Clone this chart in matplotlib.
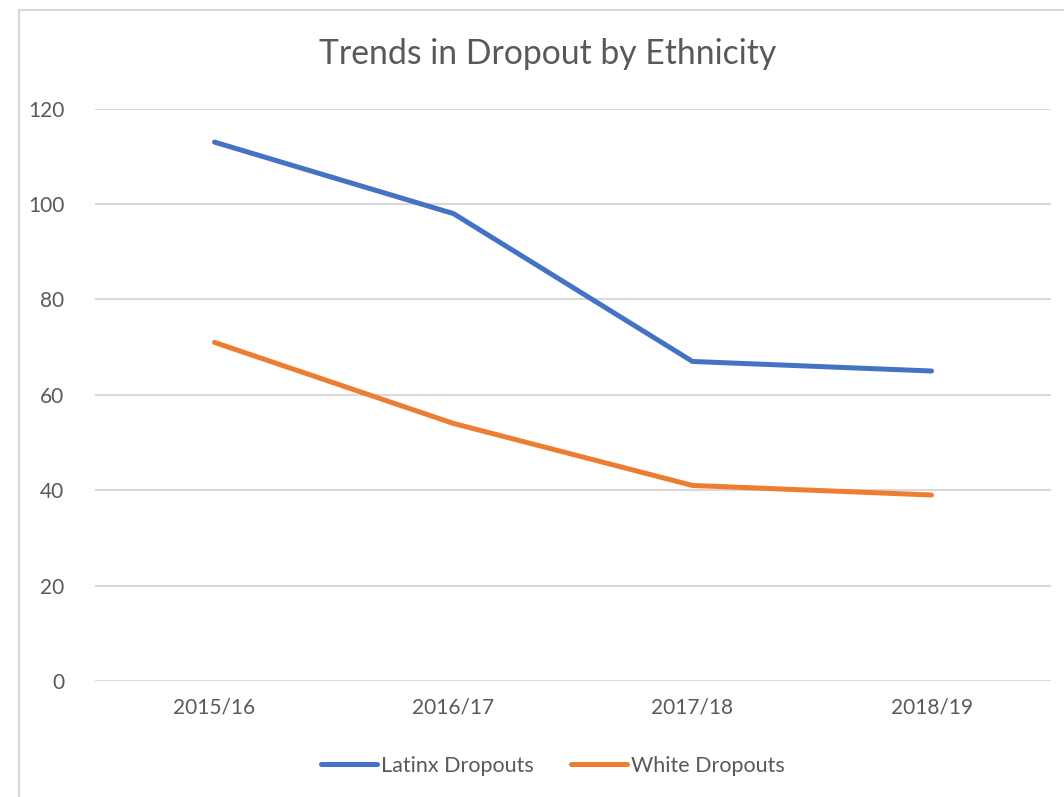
import matplotlib.pyplot as plt
from matplotlib.patches import Rectangle

years = ["2015/16", "2016/17", "2017/18", "2018/19"]
latinx = [113, 98, 67, 65]
white = [71, 54, 41, 39]
yticks = [0, 20, 40, 60, 80, 100, 120]

plt.rcParams['font.family'] = ['Lato', 'DejaVu Sans']
txt = '#595959'

fig = plt.figure(figsize=(10.64, 7.97), dpi=100)
W, H = 1064, 797

# chart border (Excel style), cut off at right/bottom
fig.patches.append(Rectangle((19 / W, -0.1), 1.2, 1 - 10 / H + 0.1, transform=fig.transFigure,
                             fill=False, edgecolor='#d9d9d9', linewidth=1.5))

ax = fig.add_axes([95 / W, 1 - 681 / H, (1051 - 95) / W, (681 - 108.7) / H])
x = range(len(years))
ax.plot(x, latinx, color='#4472C4', lw=3.6, solid_capstyle='round', label='Latinx Dropouts')
ax.plot(x, white, color='#ED7D31', lw=3.6, solid_capstyle='round', label='White Dropouts')

ax.set_xlim(-0.5, 3.5)
ax.set_ylim(0, 120)
ax.set_yticks(yticks)
ax.set_xticks(list(x))
ax.set_xticklabels(years)
ax.grid(axis='y', color='#d9d9d9', lw=1.5)
ax.set_axisbelow(True)
for s in ax.spines.values():
    s.set_visible(False)
ax.tick_params(length=0, labelsize=15, colors=txt)
ax.tick_params(axis='y', pad=22)
ax.tick_params(axis='x', pad=12)

fig.text(548 / W, 1 - 54 / H, "Trends in Dropout by Ethnicity", ha='center', va='center',
         fontsize=24.3, color=txt)

fig.legend(loc='center', bbox_to_anchor=(553 / W, 1 - 766 / H), ncol=2, frameon=False,
           fontsize=15.5, labelcolor=txt, handlelength=2.6, handletextpad=0.2, columnspacing=1.7)

fig.savefig('out.png', dpi=100)
